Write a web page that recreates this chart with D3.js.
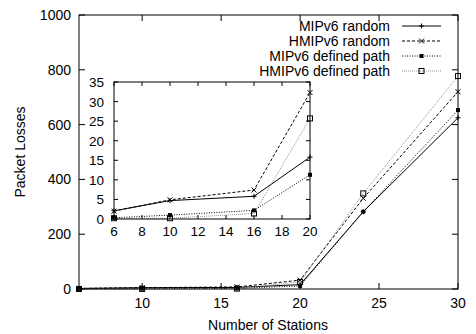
<!DOCTYPE html>
<html>
<head>
<meta charset="utf-8">
<script src="https://cdn.jsdelivr.net/npm/d3@7"></script>
<style>
  body { margin: 0; background: #fff; }
  text { font-family: "Liberation Sans", Arial, sans-serif; fill: #000; }
</style>
</head>
<body>
<svg id="chart" width="476" height="334"></svg>
<script>
// data
var stations = [6, 10, 16, 20, 24, 30];
var names = ['MIPv6 random', 'HMIPv6 random', 'MIPv6 defined path', 'HMIPv6 defined path'];
var mipRandom = [2.1, 4.7, 5.8, 15.8, 282, 625];
var hmipRandom = [2.0, 4.9, 7.4, 32.3, 331, 720];
var mipDefined = [0.3, 1.0, 2.2, 11.3, 282, 653];
var hmipDefined = [0.2, 0.2, 1.4, 25.7, 349, 777];
var mainXTicks = [10, 15, 20, 25, 30];
var mainYTicks = [0, 200, 400, 600, 800, 1000];
var insetXTicks = [6, 8, 10, 12, 14, 16, 18, 20];
var insetYTicks = [0, 5, 10, 15, 20, 25, 30, 35];

var styles = [
    {dash: null, color: '#000', width: 1, marker: 'plus'},
    {dash: '3,2', color: '#000', width: 1, marker: 'cross'},
    {dash: '1,1.5', color: '#000', width: 1, marker: 'fsquare'},
    {dash: '1,1', color: '#777', width: 0.8, marker: 'osquare'}
];

var series = [mipRandom, hmipRandom, mipDefined, hmipDefined].map(function(vals, i) {
    return {name: names[i], style: styles[i], pts: stations.map(function(s, j) { return [s, vals[j]]; })};
});

var svg = d3.select('#chart');

function drawMarker(g, type, x, y) {
    var s = 2.5;
    if (type == 'plus') {
        g.append('path').attr('d', 'M' + (x - s) + ',' + y + 'h' + 2 * s + 'M' + x + ',' + (y - s) + 'v' + 2 * s)
            .attr('stroke', '#000').attr('stroke-width', 1);
    } else if (type == 'cross') {
        g.append('path').attr('d', 'M' + (x - s) + ',' + (y - s) + 'l' + 2 * s + ',' + 2 * s + 'M' + (x - s) + ',' + (y + s) + 'l' + 2 * s + ',' + (-2 * s))
            .attr('stroke', '#000').attr('stroke-width', 1);
    } else if (type == 'fsquare') {
        g.append('rect').attr('x', x - 2).attr('y', y - 2).attr('width', 4).attr('height', 4)
            .attr('fill', '#000');
    } else {
        g.append('rect').attr('x', x - 2.5).attr('y', y - 2.5).attr('width', 5).attr('height', 5)
            .attr('fill', 'none').attr('stroke', '#000').attr('stroke-width', 1);
    }
}

function drawPanel(opt) {
    var x = d3.scaleLinear().domain(opt.xdom).range([opt.left, opt.right]);
    var y = d3.scaleLinear().domain(opt.ydom).range([opt.bottom, opt.top]);
    var g = svg.append('g');

    g.append('rect').attr('x', opt.left).attr('y', opt.top)
        .attr('width', opt.right - opt.left).attr('height', opt.bottom - opt.top)
        .attr('fill', '#fff');

    var tl = opt.tick;
    // x ticks, inner and mirrored on top
    opt.xticks.forEach(function(t) {
        g.append('line').attr('x1', x(t)).attr('x2', x(t)).attr('y1', opt.bottom).attr('y2', opt.bottom - tl).attr('stroke', '#000');
        g.append('line').attr('x1', x(t)).attr('x2', x(t)).attr('y1', opt.top).attr('y2', opt.top + tl).attr('stroke', '#000');
        g.append('text').attr('x', x(t)).attr('y', opt.bottom + opt.xlabOff)
            .attr('text-anchor', 'middle').attr('font-size', opt.font).text(t);
    });
    opt.yticks.forEach(function(t) {
        g.append('line').attr('x1', opt.left).attr('x2', opt.left + tl).attr('y1', y(t)).attr('y2', y(t)).attr('stroke', '#000');
        g.append('line').attr('x1', opt.right).attr('x2', opt.right - tl).attr('y1', y(t)).attr('y2', y(t)).attr('stroke', '#000');
        g.append('text').attr('x', opt.left - opt.ylabOff).attr('y', y(t) + 5)
            .attr('text-anchor', 'end').attr('font-size', opt.font).text(t);
    });

    var clip = 'clip' + opt.id;
    g.append('clipPath').attr('id', clip).append('rect')
        .attr('x', opt.left - 4).attr('y', opt.top - 4)
        .attr('width', opt.right - opt.left + 8).attr('height', opt.bottom - opt.top + 8);

    var line = d3.line().x(function(d) { return x(d[0]); }).y(function(d) { return y(d[1]); });
    var lg = g.append('g').attr('clip-path', 'url(#' + clip + ')');
    series.forEach(function(s) {
        var pts = s.pts.filter(function(d) { return d[0] >= opt.xdom[0] && d[0] <= opt.xdom[1]; });
        lg.append('path').attr('d', line(pts)).attr('fill', 'none')
            .attr('stroke', s.style.color).attr('stroke-width', s.style.width)
            .attr('stroke-dasharray', s.style.dash);
        pts.forEach(function(d) {
            drawMarker(lg, s.style.marker, x(d[0]), y(d[1]));
        });
    });

    g.append('rect').attr('x', opt.left).attr('y', opt.top)
        .attr('width', opt.right - opt.left).attr('height', opt.bottom - opt.top)
        .attr('fill', 'none').attr('stroke', '#000').attr('stroke-width', 1);
    return g;
}

drawPanel({id: 'main', xdom: [6, 30], ydom: [0, 1000], left: 79, right: 458, top: 15, bottom: 289,
    xticks: mainXTicks, yticks: mainYTicks, tick: 6, font: 14, xlabOff: 19, ylabOff: 8});

// legend
var leg = svg.append('g');
series.forEach(function(s, i) {
    var yy = 26 + i * 15;
    leg.append('text').attr('x', 390).attr('y', yy + 5).attr('text-anchor', 'end')
        .attr('font-size', 14).text(s.name);
    leg.append('line').attr('x1', 402).attr('x2', 441).attr('y1', yy).attr('y2', yy)
        .attr('stroke', s.style.color).attr('stroke-width', s.style.width)
        .attr('stroke-dasharray', s.style.dash);
    drawMarker(leg, s.style.marker, 421.5, yy);
});

drawPanel({id: 'inset', xdom: [6, 20], ydom: [0, 35], left: 114, right: 310, top: 82, bottom: 219,
    xticks: insetXTicks, yticks: insetYTicks, tick: 4, font: 13.5, xlabOff: 17, ylabOff: 10});

svg.append('text').attr('x', 268).attr('y', 330).attr('text-anchor', 'middle')
    .attr('font-size', 14).text('Number of Stations');
svg.append('text').attr('transform', 'translate(25,152) rotate(-90)').attr('text-anchor', 'middle')
    .attr('font-size', 14).text('Packet Losses');
</script>
</body>
</html>
